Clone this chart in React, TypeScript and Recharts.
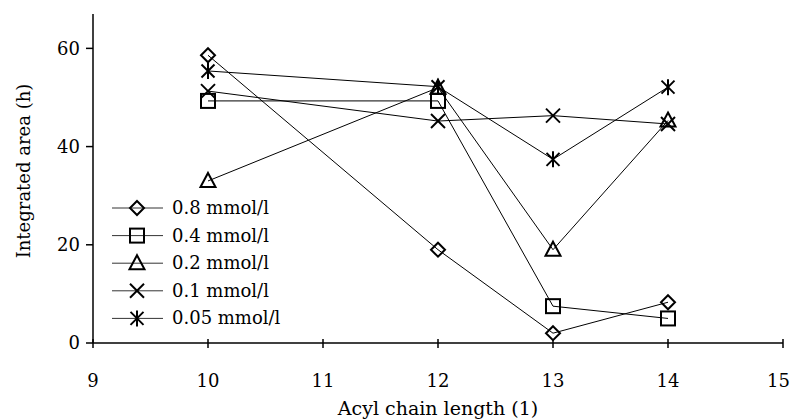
import * as React from "react";
import { Line, LineChart, XAxis, YAxis } from "recharts";

const chainLengths = [10, 12, 13, 14];
const conc08 = [58.6, 19, 2, 8.3];
const conc04 = [49.3, 49.3, 7.5, 5];
const conc02 = [33, 52, 19, 45.3];
const conc01 = [51.3, 45.2, 46.3, 44.6];
const conc005 = [55.4, 52.2, 37.4, 52.1];

const seriesNames = ["0.8 mmol/l", "0.4 mmol/l", "0.2 mmol/l", "0.1 mmol/l", "0.05 mmol/l"];
const seriesKeys = ["c08", "c04", "c02", "c01", "c005"];
const markers = ["diamond", "square", "triangle", "cross", "star"];

const xTicks = [9, 10, 11, 12, 13, 14, 15];
const yTicks = [0, 20, 40, 60];

const data = chainLengths.map((x, i) => ({
  x,
  c08: conc08[i],
  c04: conc04[i],
  c02: conc02[i],
  c01: conc01[i],
  c005: conc005[i],
}));

const FONT = "'DejaVu Serif', serif";

function Marker({ kind, cx, cy }: { kind: string; cx: number; cy: number }) {
  const s = { stroke: "#000", strokeWidth: 2, fill: "none" };
  if (kind === "diamond")
    return <polygon {...s} points={`${cx},${cy - 7} ${cx + 7},${cy} ${cx},${cy + 7} ${cx - 7},${cy}`} />;
  if (kind === "square") return <rect {...s} x={cx - 7} y={cy - 7} width={14} height={14} />;
  if (kind === "triangle")
    return <polygon {...s} points={`${cx},${cy - 8} ${cx + 7.5},${cy + 6} ${cx - 7.5},${cy + 6}`} />;
  if (kind === "cross")
    return (
      <g {...s}>
        <line x1={cx - 7} y1={cy - 7} x2={cx + 7} y2={cy + 7} />
        <line x1={cx - 7} y1={cy + 7} x2={cx + 7} y2={cy - 7} />
      </g>
    );
  return (
    <g {...s}>
      <line x1={cx - 6.5} y1={cy - 6.5} x2={cx + 6.5} y2={cy + 6.5} />
      <line x1={cx - 6.5} y1={cy + 6.5} x2={cx + 6.5} y2={cy - 6.5} />
      <line x1={cx} y1={cy - 8} x2={cx} y2={cy + 8} />
    </g>
  );
}

function XTick({ x, y, payload, index }: any) {
  // last label sits against the right edge of the picture
  const last = index === xTicks.length - 1;
  return (
    <g>
      <line x1={x} x2={x} y1={y - 4} y2={y + 5} stroke="#000" strokeWidth={1.5} />
      <text
        x={last ? 790 : x}
        y={y + 44}
        textAnchor={last ? "end" : "middle"}
        fontFamily={FONT}
        fontSize={18}
        fill="#000"
      >
        {payload.value}
      </text>
    </g>
  );
}

function LegendBox() {
  return (
    <svg width={190} height={140} style={{ display: "block" }}>
      {seriesNames.map((name, i) => {
        const y = 14 + i * 27.6;
        return (
          <g key={name}>
            <line x1={2} x2={53} y1={y} y2={y} stroke="#333" strokeWidth={1} />
            <Marker kind={markers[i]} cx={27} cy={y} />
            <text x={62} y={y + 6} fontFamily={FONT} fontSize={18} fill="#000">
              {name}
            </text>
          </g>
        );
      })}
    </svg>
  );
}

export default function App() {
  return (
    <div style={{ position: "absolute", left: 0, top: 0, width: 791, height: 419, background: "#fff" }}>
      <LineChart width={791} height={419} data={data} margin={{ top: 14, right: 8, left: 0, bottom: 0 }}>
        <XAxis
          dataKey="x"
          type="number"
          domain={[9, 15]}
          ticks={xTicks}
          height={76}
          tickSize={0}
          tickMargin={0}
          tickLine={false}
          tick={<XTick />}
          axisLine={{ stroke: "#000", strokeWidth: 1.5 }}
          label={{
            value: "Acyl chain length (1)",
            position: "insideBottom",
            offset: 4,
            fill: "#000",
            fontFamily: FONT,
            fontSize: 19,
          }}
        />
        <YAxis
          type="number"
          domain={[0, 67]}
          ticks={yTicks}
          width={93}
          tickSize={7}
          tickMargin={6}
          tickLine={{ stroke: "#000", strokeWidth: 1.5 }}
          axisLine={{ stroke: "#000", strokeWidth: 1.5 }}
          tick={{ fill: "#000", fontFamily: FONT, fontSize: 18 }}
          label={{
            content: () => (
              <text
                x={23}
                y={171}
                transform="rotate(-90, 23, 171)"
                textAnchor="middle"
                dominantBaseline="central"
                fontFamily={FONT}
                fontSize={18}
                fill="#000"
              >
                Integrated area (h)
              </text>
            ),
          }}
        />
        {seriesKeys.map((k, i) => (
          <Line
            key={k}
            dataKey={k}
            name={seriesNames[i]}
            stroke="#000"
            strokeWidth={1}
            isAnimationActive={false}
            dot={(p: any) => <Marker key={`${k}-${p.index}`} kind={markers[i]} cx={p.cx} cy={p.cy} />}
            activeDot={false}
          />
        ))}
      </LineChart>
      <div style={{ position: "absolute", left: 110, top: 194 }}>
        <LegendBox />
      </div>
    </div>
  );
}
